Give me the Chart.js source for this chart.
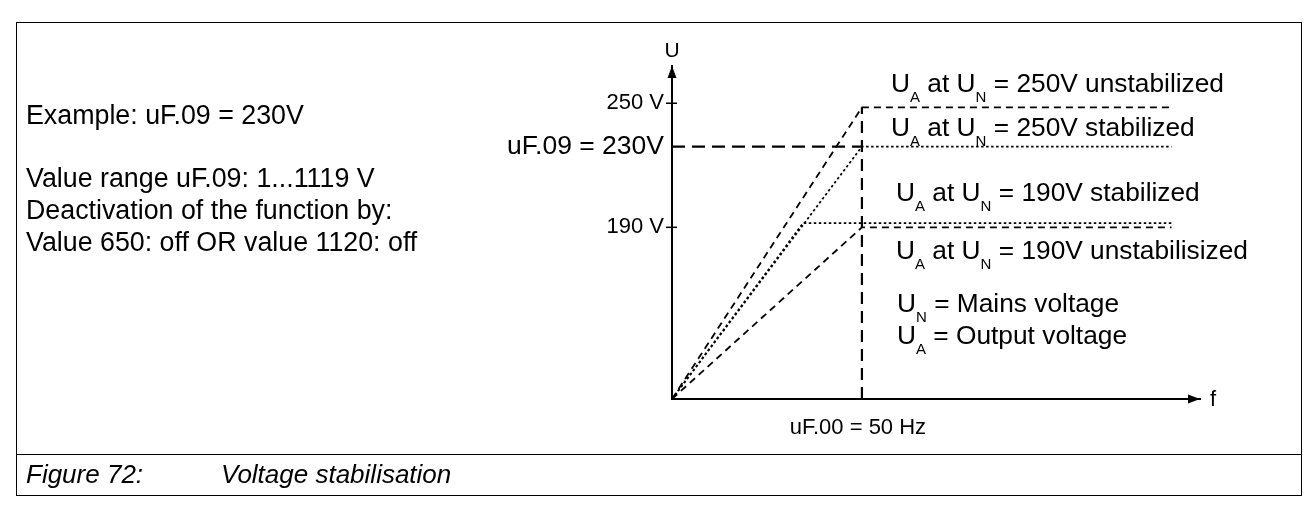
<!DOCTYPE html>
<html>
<head>
<meta charset="utf-8">
<script src="https://cdn.jsdelivr.net/npm/chart.js@4.4.1/dist/chart.umd.min.js"></script>
<style>
  body {
    margin: 0;
    width: 1316px;
    height: 509px;
    overflow: hidden;
    position: relative;
    background: #fff;
    color: #000;
    font-family: "Liberation Sans", Arial, sans-serif;
  }
  #frame {
    position: absolute;
    left: 16px;
    top: 22px;
    width: 1286px;
    height: 474px;
    border: 1px solid #000;
    box-sizing: border-box;
  }
  #divider {
    position: absolute;
    left: 16px;
    top: 454px;
    width: 1286px;
    height: 1px;
    background: #000;
  }
  canvas {
    position: absolute;
    left: 0;
    top: 0;
  }
  .t {
    position: absolute;
    white-space: nowrap;
    line-height: 1;
  }
  .note { font-size: 26.8px; left: 26px; }
  .cap { font-size: 26px; font-style: italic; top: 461px; }
  .lbl { font-size: 26.3px; }
  .s { font-size: 15px; position: relative; top: 10px; line-height: 0; }
</style>
</head>
<body>
<div id="frame"></div>
<div id="divider"></div>
<canvas id="chart" width="1316" height="509"></canvas>

<div class="t note" style="top:102.3px">Example: uF.09 = 230V</div>
<div class="t note" style="top:165.3px">Value range uF.09: 1...1119 V</div>
<div class="t note" style="top:197.3px">Deactivation of the function by:</div>
<div class="t note" style="top:229.3px">Value 650: off OR value 1120: off</div>

<div class="t cap" style="left:26px">Figure 72:</div>
<div class="t cap" style="left:221px">Voltage stabilisation</div>

<div class="t" style="font-size:21px;left:652px;width:40px;text-align:center;top:38.7px">U</div>
<div class="t" style="font-size:22px;left:1210px;top:388.4px">f</div>

<div class="t lbl" style="left:891px;top:69.7px">U<span class="s">A</span> at U<span class="s">N</span> = 250V unstabilized</div>
<div class="t lbl" style="left:891px;top:113.7px">U<span class="s">A</span> at U<span class="s">N</span> = 250V stabilized</div>
<div class="t lbl" style="left:896px;top:178.7px">U<span class="s">A</span> at U<span class="s">N</span> = 190V stabilized</div>
<div class="t lbl" style="left:896px;top:236.7px">U<span class="s">A</span> at U<span class="s">N</span> = 190V unstabilisized</div>
<div class="t lbl" style="left:897px;top:289.7px">U<span class="s">N</span> = Mains voltage</div>
<div class="t lbl" style="left:897px;top:321.7px">U<span class="s">A</span> = Output voltage</div>

<script>
// axis ranges (f in Hz, U in V) - the U axis of the sketch starts at its origin, not at 0 V
const fMin = 0;
const fMax = 139;
const uMin = 107;
const uMax = 268;

// tick labels
const yTickValues = [190, 229, 250];
const yTickLabels = ["190 V", "uF.09 = 230V", "250 V"];
const xTickValues = [50];
const xTickLabels = ["uF.00 = 50 Hz"];

// U_A at U_N = 250V unstabilized
const unstab250F = [0, 50, 131.5];
const unstab250U = [107, 248, 248];
// U_A at U_N = 250V stabilized
const stab250F = [0, 50, 131.5];
const stab250U = [107, 229, 229];
// U_A at U_N = 190V stabilized
const stab190F = [0, 34.5, 131.5];
const stab190U = [107, 192, 192];
// U_A at U_N = 190V unstabilisized
const unstab190F = [0, 50, 131.5];
const unstab190U = [107, 190, 190];
// uF.09 = 230V guide line
const setpointF = [0, 50];
const setpointU = [229, 229];
// uF.00 = 50 Hz guide line
const nominalF = [50, 50];
const nominalU = [107, 248];

const FONT = '"Liberation Sans", Arial, sans-serif';

function toPoints(fs, us) {
  return fs.map((f, i) => ({ x: f, y: us[i] }));
}

function line(fs, us, dash, width) {
  return {
    data: toPoints(fs, us),
    showLine: true,
    borderColor: "#000",
    borderWidth: width,
    borderDash: dash,
    pointRadius: 0,
    tension: 0,
    fill: false,
  };
}

// arrow heads and the small tick marks crossing the U axis
const axisExtras = {
  id: "axisExtras",
  afterDraw(chart) {
    const ctx = chart.ctx;
    const a = chart.chartArea;
    const ys = chart.scales.y;
    ctx.save();
    ctx.fillStyle = "#000";
    ctx.beginPath();
    ctx.moveTo(a.left, a.top);
    ctx.lineTo(a.left - 4.5, a.top + 12);
    ctx.lineTo(a.left + 4.5, a.top + 12);
    ctx.closePath();
    ctx.fill();
    ctx.beginPath();
    ctx.moveTo(a.right, a.bottom);
    ctx.lineTo(a.right - 12, a.bottom - 4.5);
    ctx.lineTo(a.right - 12, a.bottom + 4.5);
    ctx.closePath();
    ctx.fill();
    ctx.strokeStyle = "#000";
    ctx.lineWidth = 1.5;
    [190, 250].forEach((v) => {
      const y = ys.getPixelForValue(v);
      ctx.beginPath();
      ctx.moveTo(a.left - 6, y);
      ctx.lineTo(a.left + 5, y);
      ctx.stroke();
    });
    ctx.restore();
  },
};

new Chart(document.getElementById("chart"), {
  type: "scatter",
  data: {
    datasets: [
      line(unstab250F, unstab250U, [7, 5], 1.8),
      line(stab250F, stab250U, [2.5, 2.5], 1.8),
      line(stab190F, stab190U, [2.5, 2.5], 1.8),
      line(unstab190F, unstab190U, [7, 5], 1.8),
      line(setpointF, setpointU, [13, 7], 2.2),
      line(nominalF, nominalU, [12, 7], 2.2),
    ],
  },
  options: {
    responsive: false,
    animation: false,
    layout: { padding: { left: 472, right: 116, top: 66, bottom: 70 } },
    plugins: {
      legend: { display: false },
      tooltip: { enabled: false },
    },
    scales: {
      x: {
        type: "linear",
        min: fMin,
        max: fMax,
        afterFit(scale) {
          scale.height = 40;
        },
        afterBuildTicks(scale) {
          scale.ticks = xTickValues.map((v) => ({ value: v }));
        },
        grid: { display: false, drawTicks: false },
        border: { display: true, color: "#000", width: 2 },
        ticks: {
          color: "#000",
          padding: 16,
          maxRotation: 0,
          labelOffset: -4,
          font: { family: FONT, size: 22 },
          callback: (v) => xTickLabels[xTickValues.indexOf(v)],
        },
      },
      y: {
        type: "linear",
        min: uMin,
        max: uMax,
        afterFit(scale) {
          scale.width = 200;
        },
        afterBuildTicks(scale) {
          scale.ticks = yTickValues.map((v) => ({ value: v }));
        },
        grid: { display: false, drawTicks: false },
        border: { display: true, color: "#000", width: 2 },
        ticks: {
          color: "#000",
          padding: 8,
          font: (c) => ({
            family: FONT,
            size: c.tick && c.tick.value === 229 ? 26.5 : 22,
          }),
          callback: (v) => yTickLabels[yTickValues.indexOf(v)],
        },
      },
    },
  },
  plugins: [axisExtras],
});
</script>
</body>
</html>
